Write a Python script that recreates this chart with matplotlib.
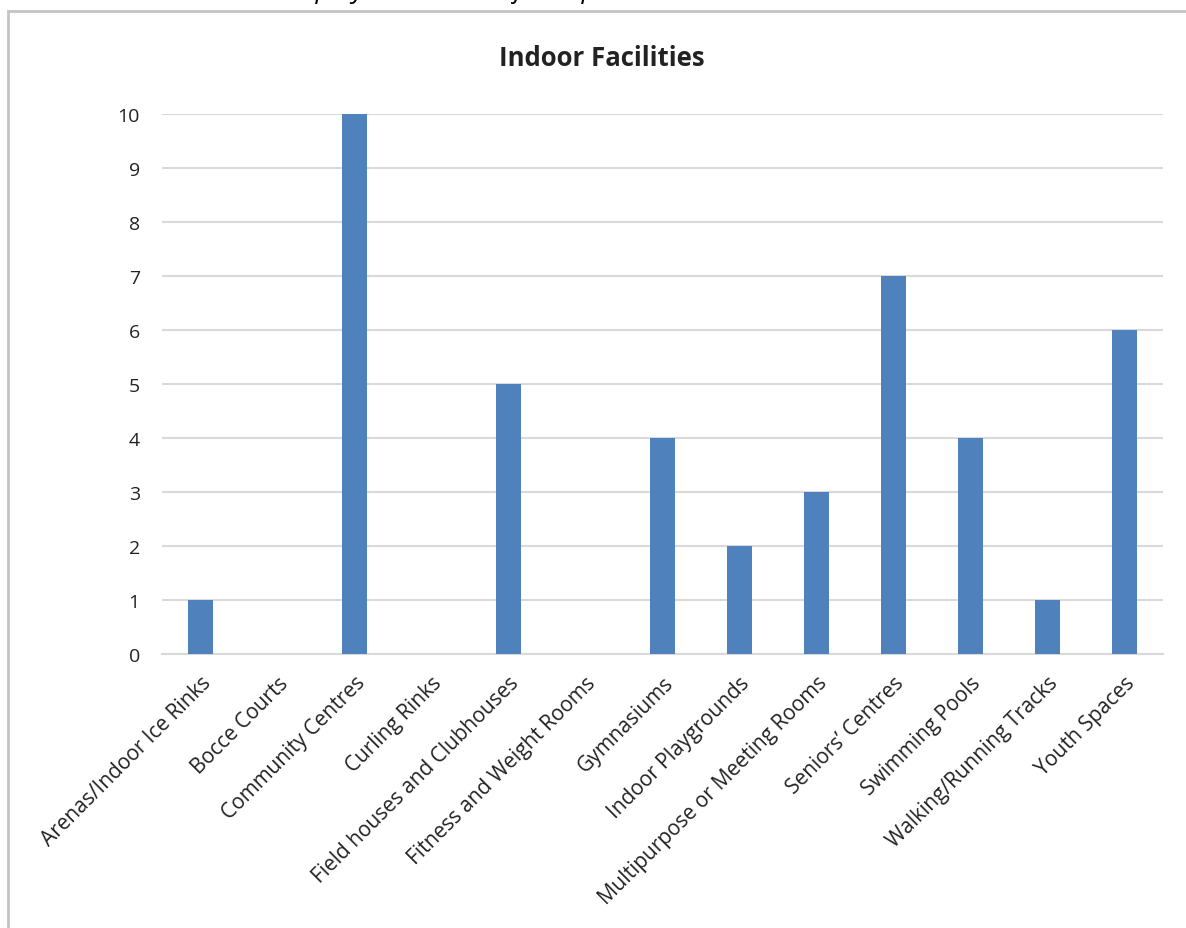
import matplotlib.pyplot as plt
from matplotlib.patches import Rectangle
from matplotlib.transforms import ScaledTranslation

categories = [
    "Arenas/Indoor Ice Rinks",
    "Bocce Courts",
    "Community Centres",
    "Curling Rinks",
    "Field houses and Clubhouses",
    "Fitness and Weight Rooms",
    "Gymnasiums",
    "Indoor Playgrounds",
    "Multipurpose or Meeting Rooms",
    "Seniors\u2019 Centres",
    "Swimming Pools",
    "Walking/Running Tracks",
    "Youth Spaces",
]
counts = [1, 0, 10, 0, 5, 0, 4, 2, 3, 7, 4, 1, 6]
yticks = list(range(0, 11))

plt.rcParams["font.family"] = ["Open Sans", "DejaVu Sans"]

fig = plt.figure(figsize=(11.86, 9.29), dpi=100)
fig.patch.set_facecolor("white")

# chart frame (cut by the page edge on the right and bottom)
frame = Rectangle((8 / 1186, -0.05), 1.2, 1 - 12 / 929 + 0.05,
                  transform=fig.transFigure, fill=False,
                  edgecolor="#c4c4c4", linewidth=2, zorder=0)
fig.patches.append(frame)

# line of document text above the chart, mostly off the page
fig.text(-0.01, 1 + 2.5 / 929,
         "the list. The charts below display the results of the question",
         fontsize=19, style="italic", ha="left", va="baseline", color="black")

ax = fig.add_axes([162 / 1186, 1 - 655 / 929, (1163 - 162) / 1186, (655 - 115) / 929])
x = list(range(len(categories)))
ax.bar(x, counts, width=0.33, color="#4f81bd", zorder=3)

ax.set_xlim(-0.5, len(categories) - 0.5)
ax.set_ylim(0, 10)
ax.set_yticks(yticks)
ax.set_yticklabels([str(v) for v in yticks], fontsize=14, color="#222222")
ax.set_xticks(x)
ax.set_xticklabels(categories, rotation=45, ha="right", va="top",
                   rotation_mode="anchor", fontsize=15, color="#222222")
shift = ScaledTranslation(11 / 100, 0, fig.dpi_scale_trans)
for lab in ax.get_xticklabels():
    lab.set_transform(lab.get_transform() + shift)

ax.tick_params(axis="both", length=0)
ax.tick_params(axis="y", pad=16)
ax.tick_params(axis="x", pad=13)
ax.grid(axis="y", color="#d9d9d9", linewidth=1.5, zorder=0)
for side in ["top", "right", "left"]:
    ax.spines[side].set_visible(False)
ax.spines["bottom"].set_color("#d9d9d9")
ax.spines["bottom"].set_linewidth(1.5)

fig.text(602 / 1186, 1 - 58 / 929, "Indoor Facilities", fontsize=18.5,
         fontweight="bold", ha="center", va="center", color="#222222")

fig.savefig("out.png", dpi=100, facecolor="white")
